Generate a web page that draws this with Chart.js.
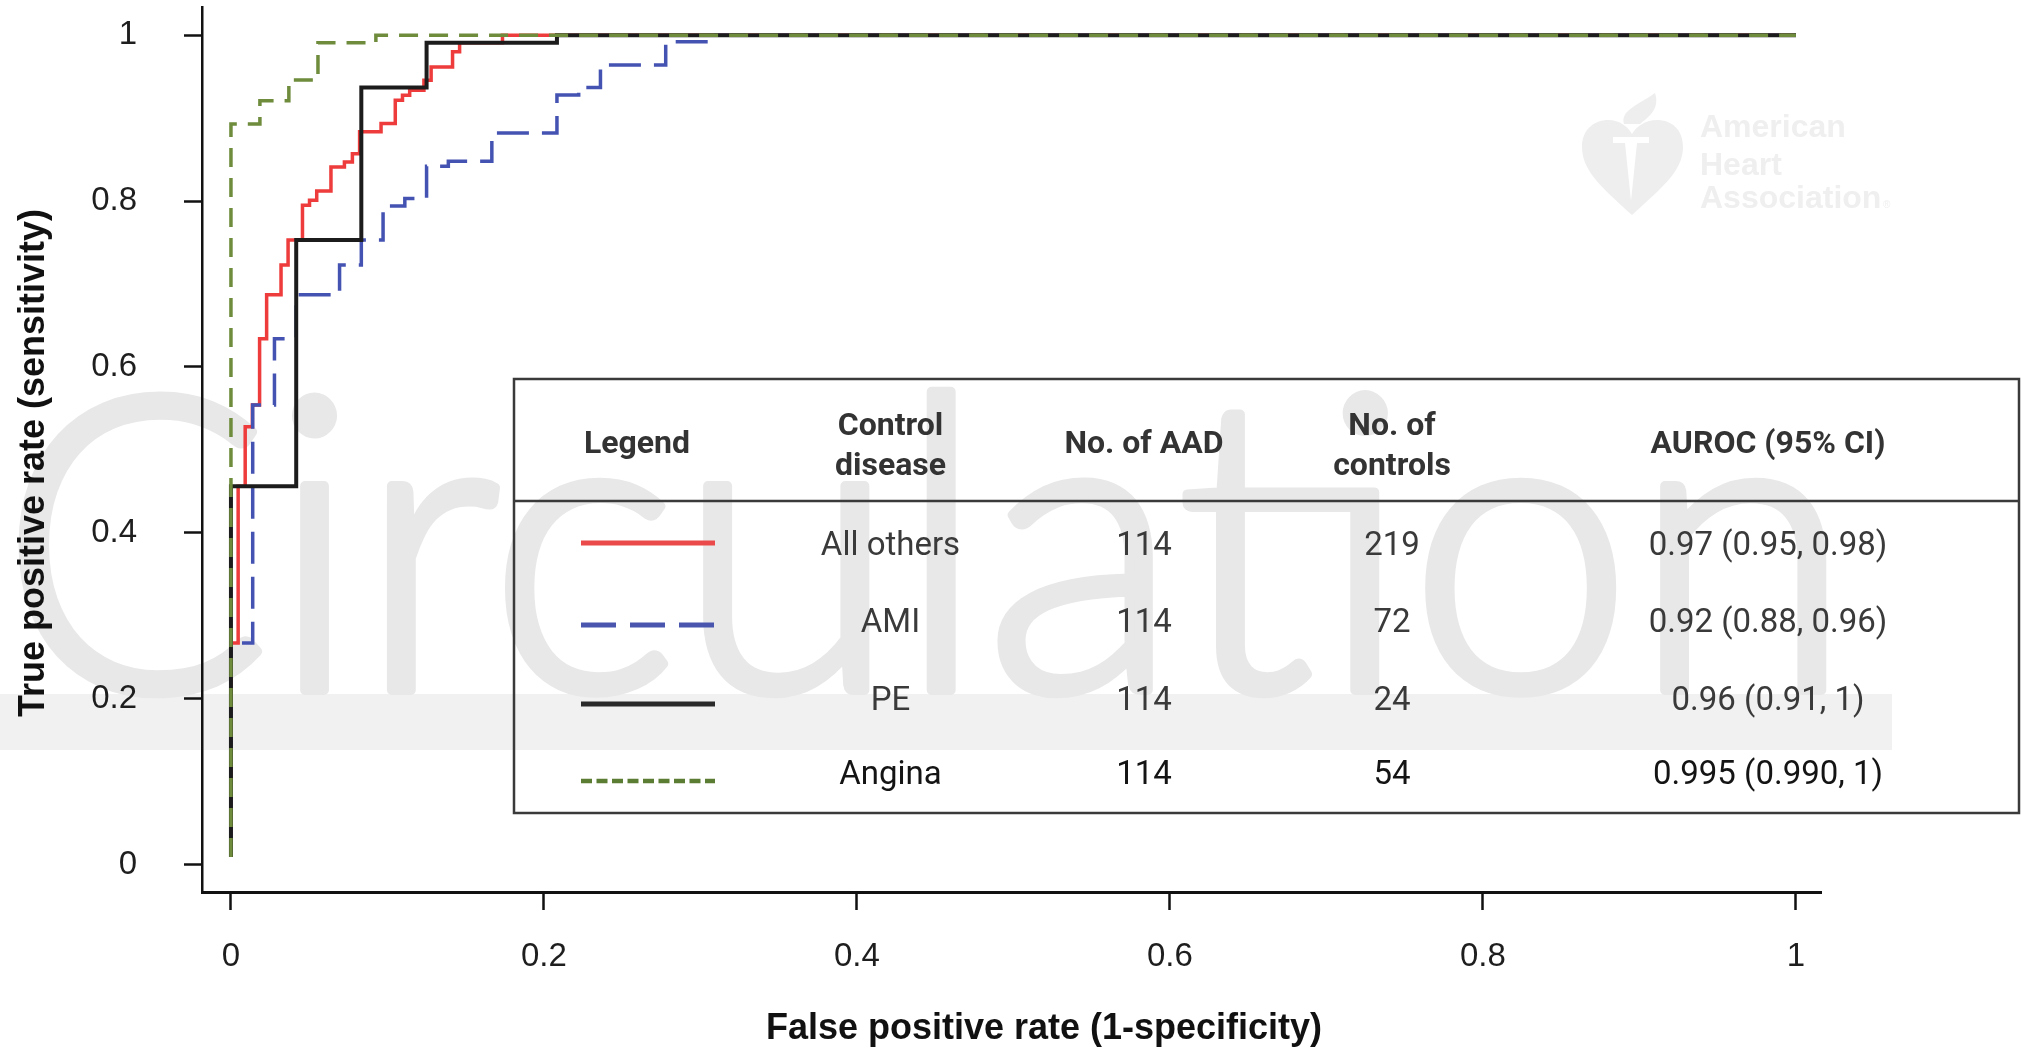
<!DOCTYPE html>
<html>
<head>
<meta charset="utf-8">
<title>ROC curves – AAD vs control diseases</title>
<script src="https://cdn.jsdelivr.net/npm/chart.js@4.4.1/dist/chart.umd.min.js"></script>
<style>
  html, body { margin: 0; padding: 0; background: #ffffff; }
  #wrap { width: 2021px; height: 1052px; position: relative; }
  canvas { display: block; }
</style>
</head>
<body>
<div id="wrap"><canvas id="roc" width="2021" height="1052"></canvas></div>
<script>
// ---- axis ticks ----
const xTickValues = [0, 0.2, 0.4, 0.6, 0.8, 1];
const xTickLabels = ['0', '0.2', '0.4', '0.6', '0.8', '1'];
const yTickValues = [0, 0.2, 0.4, 0.6, 0.8, 1];
const yTickLabels = ['0', '0.2', '0.4', '0.6', '0.8', '1'];

// ---- table rows ----
const controlDiseases = ['All others', 'AMI', 'PE', 'Angina'];
const aadCounts = [114, 114, 114, 114];
const controlCounts = [219, 72, 24, 54];
const aurocLabels = ['0.97 (0.95, 0.98)', '0.92 (0.88, 0.96)', '0.96 (0.91, 1)', '0.995 (0.990, 1)'];

// ---- ROC corner points: false positive rate / true positive rate ----
const allOthersFpr = [0, 0, 0.0046, 0.0046, 0.0091, 0.0091, 0.0137, 0.0137, 0.0183, 0.0183, 0.0228, 0.0228,
  0.032, 0.032, 0.0365, 0.0365, 0.0457, 0.0457, 0.0502, 0.0502, 0.0548, 0.0548, 0.0639, 0.0639,
  0.0725, 0.0725, 0.0776, 0.0776, 0.0822, 0.0822, 0.0959, 0.0959, 0.105, 0.105, 0.1096, 0.1096,
  0.1142, 0.1142, 0.1233, 0.1233, 0.1279, 0.1279, 0.1416, 0.1416, 0.1461, 0.1461, 0.1735, 0.1735, 1];
const allOthersTpr = [0.009, 0.267, 0.267, 0.456, 0.456, 0.528, 0.528, 0.554, 0.554, 0.634, 0.634, 0.687,
  0.687, 0.723, 0.723, 0.753, 0.753, 0.795, 0.795, 0.801, 0.801, 0.812, 0.812, 0.841,
  0.841, 0.847, 0.847, 0.857, 0.857, 0.8835, 0.8835, 0.8936, 0.8936, 0.9217, 0.9217, 0.9277,
  0.9277, 0.9337, 0.9337, 0.9458, 0.9458, 0.9618, 0.9618, 0.98, 0.98, 0.991, 0.991, 1, 1];

const amiFpr = [0, 0, 0.0139, 0.0139, 0.0278, 0.0278, 0.0417, 0.0417, 0.0694, 0.0694, 0.0833, 0.0833,
  0.0972, 0.0972, 0.1111, 0.1111, 0.125, 0.125, 0.1389, 0.1389, 0.1667, 0.1667, 0.2083, 0.2083,
  0.2222, 0.2222, 0.2361, 0.2361, 0.2778, 0.2778, 0.3056, 0.3056, 1];
const amiTpr = [0.009, 0.267, 0.267, 0.554, 0.554, 0.634, 0.634, 0.687, 0.687, 0.723, 0.723, 0.753,
  0.753, 0.794, 0.794, 0.803, 0.803, 0.842, 0.842, 0.848, 0.848, 0.882, 0.882, 0.928,
  0.928, 0.937, 0.937, 0.964, 0.964, 0.992, 0.992, 1, 1];

const peFpr = [0, 0, 0.0417, 0.0417, 0.0833, 0.0833, 0.125, 0.125, 0.2083, 0.2083, 1];
const peTpr = [0.009, 0.456, 0.456, 0.753, 0.753, 0.937, 0.937, 0.991, 0.991, 1, 1];

const anginaFpr = [0, 0, 0.0185, 0.0185, 0.037, 0.037, 0.0556, 0.0556, 0.0926, 0.0926, 1];
const anginaTpr = [0.009, 0.893, 0.893, 0.921, 0.921, 0.946, 0.946, 0.991, 0.991, 1, 1];

const toPoints = (xs, ys) => xs.map((x, i) => ({ x: x, y: ys[i] }));

const AXIS_FONT = "'Liberation Sans', Arial, Helvetica, sans-serif";
const TABLE_FONT = "Roboto, 'Noto Sans', sans-serif";

const styles = [
  { color: '#EE3B3B', legendColor: '#EB4A4A', width: 3.5, dash: [], legendDash: [], order: 4 },
  { color: '#4453B2', legendColor: '#4A56AE', width: 3.5, dash: [32, 13], legendDash: [35, 14], order: 3 },
  { color: '#1c1c1c', legendColor: '#2a2a2a', width: 4, dash: [], legendDash: [], order: 2 },
  { color: '#6E8C3C', legendColor: '#5B7D33', width: 3.5, dash: [19, 11], legendDash: [11, 4.5], order: 1 }
];
const seriesPoints = [
  toPoints(allOthersFpr, allOthersTpr),
  toPoints(amiFpr, amiTpr),
  toPoints(peFpr, peTpr),
  toPoints(anginaFpr, anginaTpr)
];

// Faint journal watermark and society logo behind the plot
const watermarkPlugin = {
  id: 'watermark',
  beforeDraw(chart) {
    const ctx = chart.ctx;
    ctx.save();
    ctx.fillStyle = '#ffffff';
    ctx.fillRect(0, 0, chart.width, chart.height);

    // band under the word
    ctx.fillStyle = '#f1f1f1';
    ctx.fillRect(0, 694, 1892, 56);

    // large "Circulation" word
    ctx.font = "300 410px Lato, 'Open Sans', sans-serif";
    const w = ctx.measureText('Circulation').width;
    ctx.save();
    ctx.translate(0, 690);
    ctx.scale(1852 / w, 1);
    ctx.fillStyle = '#e8e8e8';
    ctx.strokeStyle = '#e8e8e8';
    ctx.lineWidth = 10;
    ctx.lineJoin = 'round';
    ctx.textBaseline = 'alphabetic';
    ctx.fillText('Circulation', 0, 0);
    ctx.strokeText('Circulation', 0, 0);
    ctx.restore();

    // heart with torch
    ctx.fillStyle = '#eeeeee';
    ctx.beginPath();
    ctx.moveTo(1632, 215);
    ctx.bezierCurveTo(1605, 190, 1582, 172, 1582, 147);
    ctx.bezierCurveTo(1582, 128, 1596, 120, 1608, 120);
    ctx.bezierCurveTo(1620, 120, 1628, 127, 1632, 134);
    ctx.bezierCurveTo(1636, 127, 1645, 120, 1657, 120);
    ctx.bezierCurveTo(1670, 120, 1683, 128, 1683, 147);
    ctx.bezierCurveTo(1683, 172, 1659, 190, 1632, 215);
    ctx.closePath();
    ctx.fill();
    // flame
    ctx.beginPath();
    ctx.moveTo(1624, 124);
    ctx.bezierCurveTo(1620, 110, 1640, 104, 1655, 93);
    ctx.bezierCurveTo(1660, 108, 1650, 116, 1640, 124);
    ctx.closePath();
    ctx.fill();
    // torch cut-out
    ctx.fillStyle = '#ffffff';
    ctx.beginPath();
    ctx.moveTo(1613, 137);
    ctx.lineTo(1649, 137);
    ctx.lineTo(1649, 143);
    ctx.lineTo(1637, 143);
    ctx.lineTo(1631, 201);
    ctx.lineTo(1625, 143);
    ctx.lineTo(1613, 143);
    ctx.closePath();
    ctx.fill();

    ctx.fillStyle = '#efefef';
    ctx.font = "bold 32px " + AXIS_FONT;
    ctx.textAlign = 'left';
    ctx.fillText('American', 1700, 137);
    ctx.fillText('Heart', 1700, 175);
    ctx.fillText('Association', 1700, 208);
    ctx.font = "10px " + AXIS_FONT;
    ctx.fillText('®', 1883, 208);
    ctx.restore();
  }
};

// Axis titles, placed like the plotting software placed them
const axisTitlePlugin = {
  id: 'axisTitles',
  afterDraw(chart) {
    const ctx = chart.ctx;
    ctx.save();
    ctx.fillStyle = '#111111';
    ctx.font = "bold 36px " + AXIS_FONT;
    ctx.textAlign = 'center';
    ctx.textBaseline = 'alphabetic';
    ctx.fillText('False positive rate (1-specificity)', 1044, 1039);
    ctx.translate(44, 463);
    ctx.rotate(-Math.PI / 2);
    ctx.fillText('True positive rate (sensitivity)', 0, 0);
    ctx.restore();
  }
};

// Legend table drawn over the lower right of the plot
const tablePlugin = {
  id: 'legendTable',
  afterDatasetsDraw(chart) {
    const ctx = chart.ctx;
    const left = 514, top = 379, right = 2019, bottom = 813, divider = 501;
    const colLegend = 637, colDisease = 890.5, colAad = 1144, colControls = 1392, colAuroc = 1768;
    const baselines = [555, 632, 710, 784];
    const lineYs = [543, 625, 704, 781];
    ctx.save();
    ctx.strokeStyle = '#3a3a3a';
    ctx.lineWidth = 2.5;
    ctx.strokeRect(left, top, right - left, bottom - top);
    ctx.beginPath();
    ctx.moveTo(left, divider);
    ctx.lineTo(right, divider);
    ctx.stroke();

    ctx.textAlign = 'center';
    ctx.textBaseline = 'alphabetic';
    ctx.fillStyle = '#333333';
    ctx.font = "bold 32px " + TABLE_FONT;
    ctx.fillText('Legend', colLegend, 453);
    ctx.fillText('Control', colDisease, 435);
    ctx.fillText('disease', colDisease, 475);
    ctx.fillText('No. of AAD', colAad, 453);
    ctx.fillText('No. of', colControls, 435);
    ctx.fillText('controls', colControls, 475);
    ctx.fillText('AUROC (95% CI)', colAuroc, 453);

    ctx.font = "33px " + TABLE_FONT;
    for (let i = 0; i < controlDiseases.length; i++) {
      ctx.fillStyle = i === 3 ? '#141414' : '#3a3a3a';
      ctx.fillText(controlDiseases[i], colDisease, baselines[i]);
      ctx.fillText(String(aadCounts[i]), colAad, baselines[i]);
      ctx.fillText(String(controlCounts[i]), colControls, baselines[i]);
      ctx.fillText(aurocLabels[i], colAuroc, baselines[i]);

      const st = styles[i];
      ctx.beginPath();
      ctx.strokeStyle = st.legendColor;
      ctx.lineWidth = i === 3 ? 4.5 : 5;
      ctx.lineCap = 'butt';
      ctx.setLineDash(st.legendDash);
      ctx.moveTo(581, lineYs[i]);
      ctx.lineTo(715, lineYs[i]);
      ctx.stroke();
      ctx.setLineDash([]);
    }
    ctx.restore();
  }
};

const datasets = controlDiseases.map((name, i) => ({
  label: name,
  data: seriesPoints[i],
  showLine: true,
  borderColor: styles[i].color,
  backgroundColor: styles[i].color,
  borderWidth: styles[i].width,
  borderDash: styles[i].dash,
  borderCapStyle: 'butt',
  borderJoinStyle: 'miter',
  pointRadius: 0,
  pointHoverRadius: 0,
  tension: 0,
  fill: false,
  order: styles[i].order
}));

new Chart(document.getElementById('roc'), {
  type: 'scatter',
  data: { datasets: datasets },
  options: {
    responsive: false,
    animation: false,
    devicePixelRatio: 1,
    layout: { padding: { left: 0, top: 7, right: 200, bottom: 0 } },
    plugins: { legend: { display: false }, tooltip: { enabled: false } },
    scales: {
      x: {
        type: 'linear',
        min: -0.0185,
        max: 1.016,
        afterFit(scale) {
          scale.height = 160;
          scale.paddingLeft = 0;
          scale.paddingRight = 0;
        },
        afterBuildTicks(scale) { scale.ticks = xTickValues.map(v => ({ value: v })); },
        ticks: {
          callback: (v, i) => xTickLabels[i],
          font: { family: AXIS_FONT, size: 33 },
          color: '#1e1e1e',
          padding: 27,
          maxRotation: 0,
          autoSkip: false
        },
        grid: { drawOnChartArea: false, drawTicks: true, tickLength: 18, tickWidth: 2.5, tickColor: '#111' },
        border: { display: true, color: '#111', width: 3 }
      },
      y: {
        type: 'linear',
        min: -0.0331,
        max: 1.034,
        afterFit(scale) {
          scale.width = 202;
          scale.paddingTop = 0;
          scale.paddingBottom = 0;
        },
        afterBuildTicks(scale) { scale.ticks = yTickValues.map(v => ({ value: v })); },
        ticks: {
          callback: (v, i) => yTickLabels[i],
          font: { family: AXIS_FONT, size: 33 },
          color: '#1e1e1e',
          padding: 47,
          autoSkip: false
        },
        grid: { drawOnChartArea: false, drawTicks: true, tickLength: 18, tickWidth: 2.5, tickColor: '#111' },
        border: { display: true, color: '#111', width: 2.5 }
      }
    }
  },
  plugins: [watermarkPlugin, tablePlugin, axisTitlePlugin]
});
</script>
</body>
</html>
